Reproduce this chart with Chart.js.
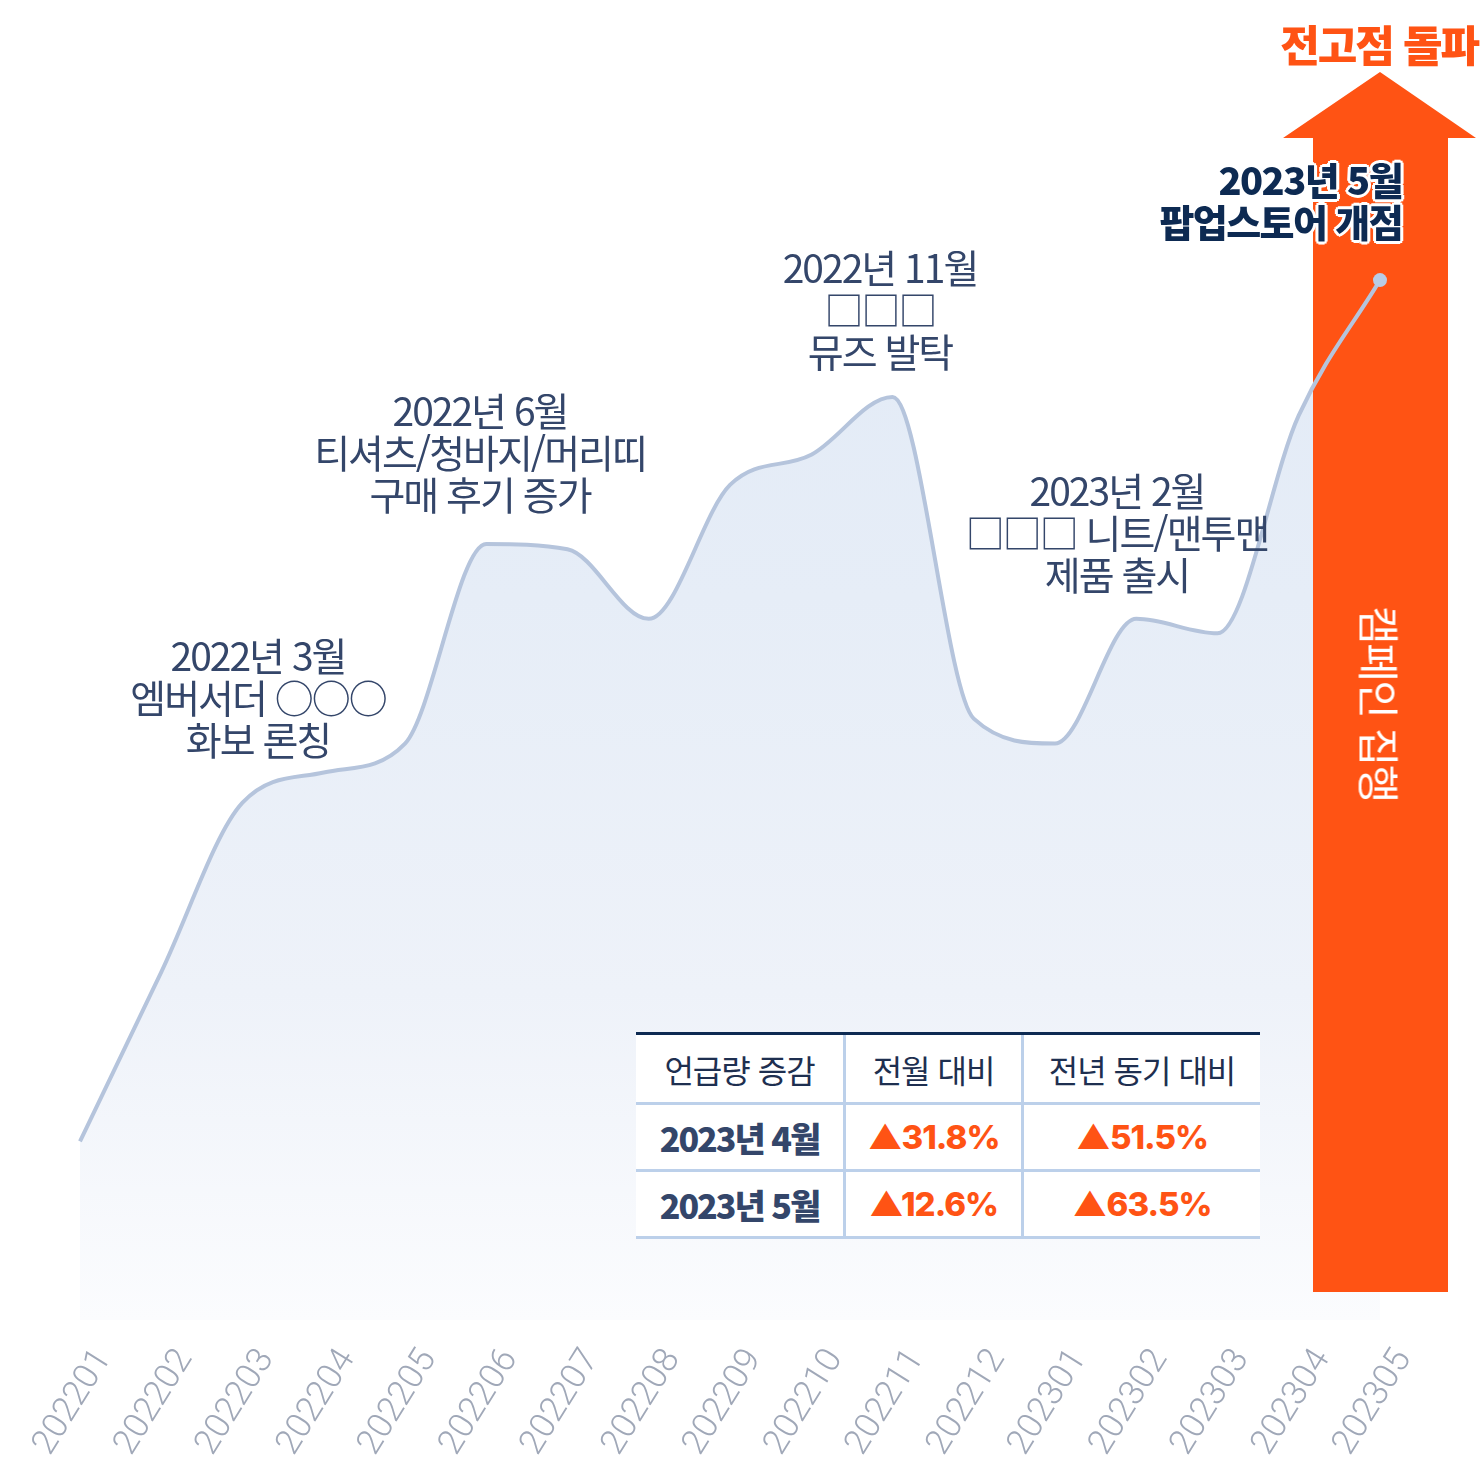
<!DOCTYPE html>
<html lang="ko">
<head>
<meta charset="utf-8">
<script src="https://cdn.jsdelivr.net/npm/chart.js@4/dist/chart.umd.min.js"></script>
<style>
  html, body { margin: 0; padding: 0; background: #fff; }
  #wrap { position: relative; width: 1484px; height: 1466px; overflow: hidden; font-family: "Noto Sans CJK KR", sans-serif; }
  #chart { position: absolute; left: 0; top: 0; }
  .note { position: absolute; transform: translateX(-50%); text-align: center; white-space: nowrap;
          color: #34466a; font-size: 39px; line-height: 42px; letter-spacing: -2px; }
  #peak { position: absolute; right: 6px; top: 12px; color: #ff5314; font-size: 43px; font-weight: 900; letter-spacing: -2px; }
  #popup { position: absolute; right: 82px; top: 158px; text-align: right; color: #0d2a52; font-size: 38px; font-weight: 900;
           line-height: 42px; letter-spacing: -1.6px;
           text-shadow: 0 0 3px #fff, 2px 2px 0 #fff, -2px -2px 0 #fff, 2px -2px 0 #fff, -2px 2px 0 #fff, 0 3px 0 #fff, 0 -3px 0 #fff, 3px 0 0 #fff, -3px 0 0 #fff; }
  #campaign { position: absolute; left: 1381px; top: 704px; transform: translate(-50%, -50%) rotate(90deg); color: #fff;
              font-size: 42px; letter-spacing: -1.5px; white-space: nowrap; }
  table { position: absolute; left: 636px; top: 1032px; width: 624px; border-collapse: collapse; background: #fff; }
  td { text-align: center; padding: 0; border-left: 3px solid #bcd0ea; border-bottom: 3px solid #bcd0ea; letter-spacing: -1px; }
  td:first-child { border-left: none; }
  tr.head td { height: 67px; font-size: 32px; color: #1e2f50; border-top: 3px solid #0d2a52; }
  tr.row td { height: 64px; }
  td.lab { font-size: 34px; font-weight: 800; color: #34466a; letter-spacing: -2px; }
  td.val { font-size: 33px; font-weight: 800; color: #ff5314; font-family: "Inter", sans-serif; }
</style>
</head>
<body>
<div id="wrap">
  <canvas id="chart" width="1484" height="1466"></canvas>
  <div class="note" style="left:258px; top:633px;">2022년 3월<br>엠버서더 ○○○<br>화보 론칭</div>
  <div class="note" style="left:480px; top:388px;">2022년 6월<br>티셔츠/청바지/머리띠<br>구매 후기 증가</div>
  <div class="note" style="left:880px; top:245px;">2022년 11월<br>□□□<br>뮤즈 발탁</div>
  <div class="note" style="left:1117px; top:468px;">2023년 2월<br>□□□ 니트/맨투맨<br>제품 출시</div>
  <div id="peak">전고점 돌파</div>
  <div id="popup">2023년 5월<br>팝업스토어 개점</div>
  <div id="campaign">캠페인 집행</div>
  <table>
    <tr class="head"><td style="width:207px">언급량 증감</td><td style="width:175px">전월 대비</td><td>전년 동기 대비</td></tr>
    <tr class="row"><td class="lab">2023년 4월</td><td class="val">▲31.8%</td><td class="val">▲51.5%</td></tr>
    <tr class="row"><td class="lab">2023년 5월</td><td class="val">▲12.6%</td><td class="val">▲63.5%</td></tr>
  </table>
</div>
<script>
const months = ['202201', '202202', '202203', '202204', '202205', '202206', '202207', '202208', '202209',
                '202210', '202211', '202212', '202301', '202302', '202303', '202304', '202305'];
// 언급량 (상대값)
const mentions = [13.6, 26.5, 39.4, 41.7, 43.9, 59.1, 58.7, 53.4, 63.6, 65.9, 70.3, 45.8, 43.9, 53.4, 52.3, 68.9, 79.2];

const ctx = document.getElementById('chart').getContext('2d');

const arrowPlugin = {
    id: 'arrow',
    afterDatasetDraw(chart, args) {
        if (args.index !== 0) return;
        const c = chart.ctx;
        const cx = chart.scales.x.getPixelForValue(months.length - 1);
        c.save();
        c.fillStyle = '#ff5314';
        c.beginPath();
        c.moveTo(cx, 72);
        c.lineTo(cx + 96, 138);
        c.lineTo(cx + 68, 138);
        c.lineTo(cx + 68, 1292);
        c.lineTo(cx - 67, 1292);
        c.lineTo(cx - 67, 138);
        c.lineTo(cx - 97, 138);
        c.closePath();
        c.fill();
        c.restore();
    }
};

new Chart(ctx, {
    type: 'line',
    data: {
        labels: months,
        datasets: [
            {
                data: mentions,
                order: 2,
                borderWidth: 0,
                pointRadius: 0,
                cubicInterpolationMode: 'monotone',
                fill: 'start',
                backgroundColor: function(context) {
                    const area = context.chart.chartArea;
                    if (!area) return '#e8eef8';
                    const g = context.chart.ctx.createLinearGradient(0, area.top, 0, area.bottom);
                    g.addColorStop(0, '#e0e9f6');
                    g.addColorStop(0.45, '#e6edf7');
                    g.addColorStop(0.75, '#eef2f9');
                    g.addColorStop(1, '#fbfcfe');
                    return g;
                }
            },
            {
                data: mentions,
                order: 1,
                fill: false,
                borderColor: '#b5c4dc',
                borderWidth: 4,
                cubicInterpolationMode: 'monotone',
                pointRadius: mentions.map((v, i) => i === mentions.length - 1 ? 7 : 0),
                pointBackgroundColor: '#b8cce6',
                pointBorderWidth: 0
            }
        ]
    },
    options: {
        responsive: false,
        animation: false,
        layout: { padding: { left: 80, right: 104, top: 0, bottom: 0 } },
        plugins: { legend: { display: false }, tooltip: { enabled: false } },
        scales: {
            y: { display: false, min: 0, max: 100 },
            x: {
                offset: false,
                grid: { display: false },
                border: { display: false },
                afterFit: function(scale) { scale.height = 146; },
                ticks: {
                    minRotation: 58,
                    maxRotation: 58,
                    padding: 14,
                    labelOffset: 24,
                    color: '#a0a8b8',
                    font: { family: 'Roboto', weight: '300', size: 35 }
                }
            }
        }
    },
    plugins: [arrowPlugin]
});
</script>
</body>
</html>
